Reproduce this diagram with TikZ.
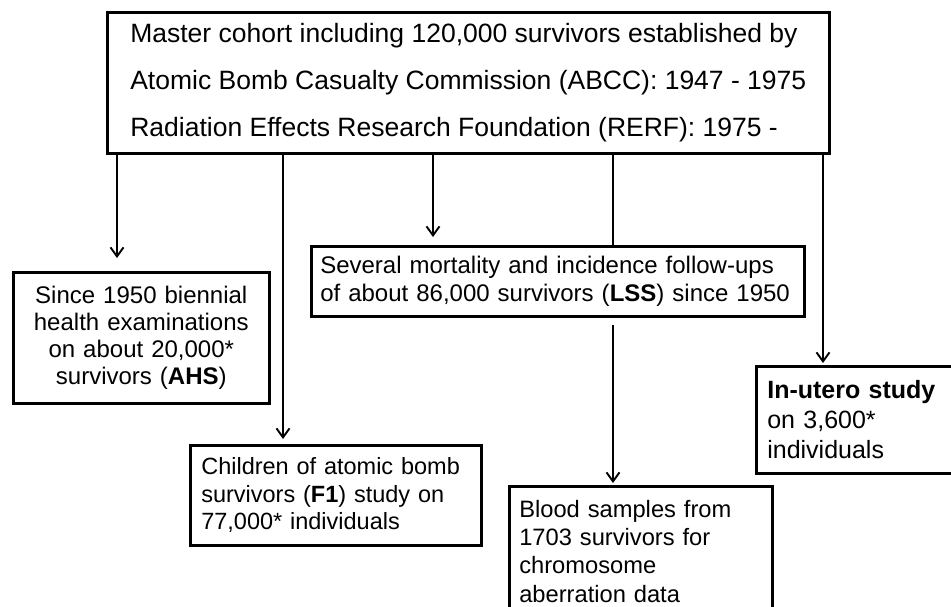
\documentclass[tikz,border=0pt]{standalone}
\usepackage{fontspec}
\setmainfont{Liberation Sans}
\usetikzlibrary{positioning,arrows.meta,calc}

\begin{document}
\begin{tikzpicture}[x=1pt,y=-1pt,font=\fontsize{24}{27}\selectfont,
        cohort/.style={draw,line width=2.6pt,anchor=north west,inner ysep=0pt},
        flow/.style={line width=1.9pt,-{Straight Barb[length=9pt,width=13pt,line width=1.9pt]}}]
        \useasboundingbox (0,0) rectangle (951,607);
        \clip (0,0) rectangle (951,607);
        \node[cohort,minimum width=722pt,minimum height=141pt,align=left,
              font=\fontsize{26.5}{47}\selectfont] (main) at (106,11)
             {Master cohort including 120,000 survivors established by\\
              Atomic Bomb Casualty Commission (ABCC): 1947 - 1975\\
              Radiation Effects Research Foundation (RERF): 1975 -};
        \node[cohort,inner xsep=10pt,text width=236pt,minimum height=131pt,align=center] (ahs) at (12,271)
             {Since 1950 biennial\\health examinations\\on about 20,000*\\survivors (\textbf{AHS})};
        \node[cohort,inner xsep=9pt,text width=475pt,minimum height=70pt,align=left,
              font=\fontsize{24}{28}\selectfont] (lss) at (310,245)
             {Several mortality and incidence follow-ups\\of about 86,000 survivors (\textbf{LSS}) since 1950};
        \node[cohort,inner xsep=11pt,text width=269pt,minimum height=100pt,align=left,
              font=\fontsize{23.5}{27.5}\selectfont] (f1) at (189,444)
             {Children of atomic bomb\\survivors (\textbf{F1}) study on\\77,000* individuals};
        \node[cohort,inner xsep=10pt,text width=243pt,minimum height=130pt,align=left,
              font=\fontsize{23.7}{28.3}\selectfont] (blood) at (508,485)
             {Blood samples from\\1703 survivors for\\chromosome\\aberration data};
        \node[cohort,inner xsep=11pt,text width=188pt,minimum height=107pt,align=left,
              font=\fontsize{25}{30}\selectfont] (utero) at (755,365)
             {\textbf{In-utero study}\\on 3,600*\\individuals};
        \draw[flow,shorten >=13pt] ($(main.south -| ahs.north west)+(105,0)$) -- ($(ahs.north west)+(105,0)$);
        \draw[flow,shorten >=5pt] ($(main.south -| f1.north west)+(94,0)$) -- ($(f1.north west)+(94,0)$);
        \draw[flow,shorten >=8pt] ($(main.south -| lss.north west)+(123,0)$) -- ($(lss.north west)+(123,0)$);
        \draw[line width=1.9pt] ($(main.south -| lss.north west)+(303,0)$) -- ($(lss.north west)+(303,0)$);
        \draw[flow,shorten <=7pt,shorten >=2pt] ($(lss.south west)+(303,0)$) -- ($(blood.north west)+(105,0)$);
        \draw[flow,shorten >=2pt] ($(main.south -| utero.north west)+(68,0)$) -- ($(utero.north west)+(68,0)$);
      \end{tikzpicture}
\end{document}
